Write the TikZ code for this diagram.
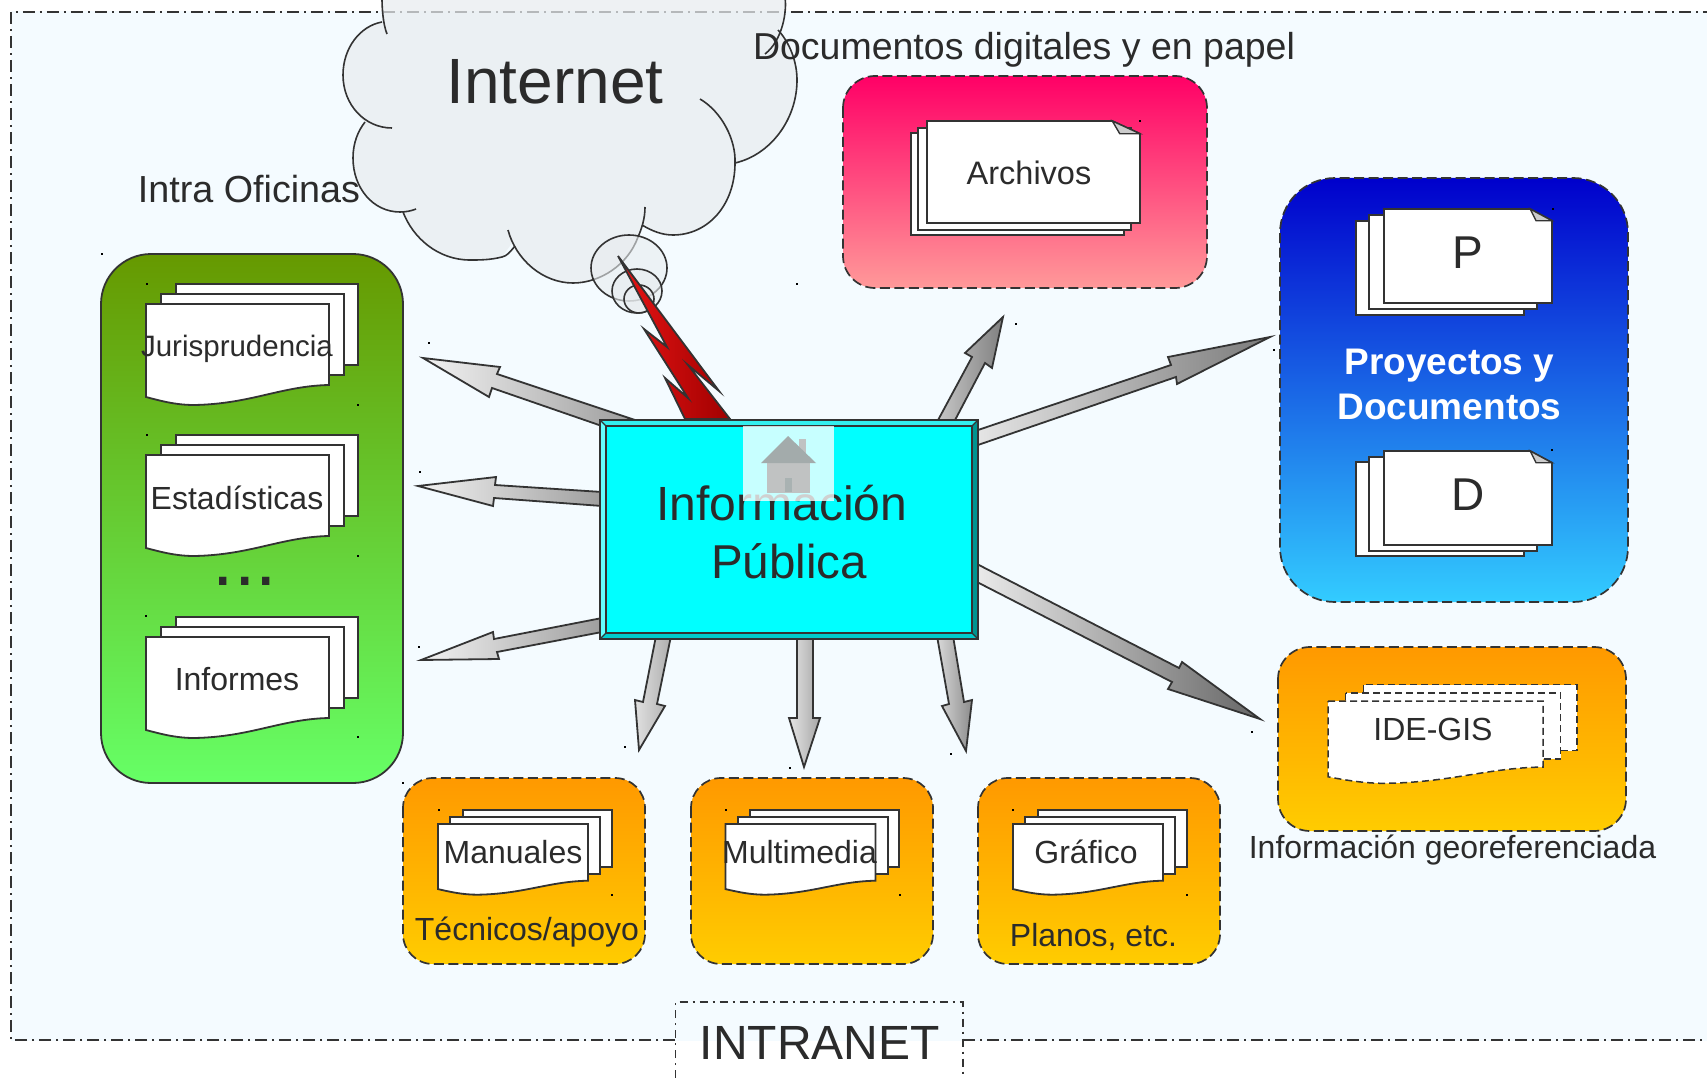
\documentclass[tikz,border=0pt]{standalone}
\usepackage{fontspec}
\setmainfont{Liberation Sans}
\definecolor{ink}{HTML}{2B2B2B}
\definecolor{linec}{HTML}{333333}
\definecolor{bgedge}{HTML}{F4FBFF}
\definecolor{bgmid}{HTML}{FDFEFF}
\definecolor{cloudfill}{HTML}{E8ECEF}
\definecolor{cyanmain}{HTML}{00FFFF}
\definecolor{beveltop}{HTML}{33EEEE}
\definecolor{bevelleft}{HTML}{66FFFF}
\definecolor{bevelright}{HTML}{009490}
\definecolor{bevelbottom}{HTML}{00CCCC}
\definecolor{boltl}{HTML}{E81515}
\definecolor{boltr}{HTML}{A00000}
\definecolor{greena}{HTML}{669900}
\definecolor{greenb}{HTML}{66FF66}
\definecolor{pinka}{HTML}{FF0066}
\definecolor{pinkb}{HTML}{FF9999}
\definecolor{bluea}{HTML}{0000CC}
\definecolor{blueb}{HTML}{33CCFF}
\definecolor{orangea}{HTML}{FF9900}
\definecolor{orangeb}{HTML}{FFCC00}
\definecolor{roof}{HTML}{A3ABAB}
\definecolor{hbody}{HTML}{C0C2C2}
\definecolor{hdoor}{HTML}{A9B2B2}
\newcommand{\fs}[1]{\fontsize{#1}{#1}\selectfont}
\tikzset{
  lbl/.style={inner sep=0pt,anchor=base,text=ink,font=\fs{#1}},
  sheet/.style={draw=linec,fill=white,line width=1.8pt,line join=miter},
  dashbox/.style={draw=linec,line width=1.7pt,dash pattern=on 10pt off 4.5pt},
  arrowshape/.style={draw=linec,line width=1.8pt,line join=miter,miter limit=12},
  cloudline/.style={draw=linec,line width=1.6pt},
  framedash/.style={draw=linec,line width=1.3pt,dash pattern=on 12pt off 5pt on 2pt off 5pt},
  boxdash/.style={draw=linec,line width=1.1pt,dash pattern=on 8pt off 5pt on 2pt off 5pt},
}
% front sheet top-left at #2,#3, scales #4,#5
\newcommand{\wavestack}[5][]{%
  \begin{scope}[shift={(#2,#3)},xscale=#4,yscale=#5]
    \path[sheet,#1] (30,-20) rectangle (212,61);
    \path[sheet,#1] (15,-10) rectangle (198,71);
    \path[sheet,#1] (0,0) -- (183,0) -- (183,81) .. controls (135,82) and (105,100) .. (48,101)
      .. controls (30,101) and (15,97) .. (0,93) -- cycle;
  \end{scope}}
% x back, x mid, x front, y front, y mid, y back, w, h
\newcommand{\foldstack}[8]{%
  \path[sheet] (#1,#6) rectangle ({#1+#7},{#6+#8});
  \path[sheet] (#2,#5) rectangle ({#2+#7},{#5+#8});
  \path[sheet] (#3,#4) -- ({#3+0.87*#7},#4) -- ({#3+#7},{#4+0.125*#8}) -- ({#3+#7},{#4+#8}) -- (#3,{#4+#8}) -- cycle;
  \path[draw=linec,fill=black!20,line width=1.4pt] ({#3+0.87*#7},#4) -- ({#3+0.905*#7},{#4+0.125*#8}) -- ({#3+#7},{#4+0.125*#8}) -- cycle;}
\begin{document}
\begin{tikzpicture}[x=1pt,y=-1pt]
\useasboundingbox (0,0) rectangle (1707,1078);
\fill[white] (0,0) rectangle (1707,1078);
% Intranet area
\shade[top color=bgedge,middle color=bgmid,bottom color=bgedge] (11,12) rectangle (1708,1040);
\draw[framedash] (675,1040) -- (11,1040) -- (11,12) -- (1708,12);
\draw[framedash] (963,1040) -- (1708,1040);
\draw[boxdash] (675.5,1078) -- (675.5,1002) -- (963,1002) -- (963,1078);
% cloud
\path[fill=cloudfill,fill opacity=.72] (382,-2) -- (785,-2) .. controls (786,10) and (784,20) .. (778,30)
  .. controls (790,43) and (797,62) .. (797,80) .. controls (797,120) and (770,155) .. (735,163)
  .. controls (735,205) and (708,235) .. (673,235) .. controls (662,235) and (652,231) .. (642,225)
  -- (638,237) .. controls (628,265) and (600,283) .. (573,283) .. controls (543,283) and (522,265) .. (512,243)
  -- (502,257) .. controls (490,260) and (480,260) .. (470,260) .. controls (438,260) and (413,238) .. (403,212)
  -- (400,212) .. controls (373,212) and (353,188) .. (353,158) .. controls (353,143) and (358,131) .. (365,122)
  .. controls (352,111) and (343,94) .. (343,75) .. controls (343,48) and (360,26) .. (382,22) -- cycle;
\draw[cloudline] (387,34) .. controls (383,24) and (382,8) .. (382,-2);
\draw[cloudline] (785,-2) .. controls (787,10) and (783,40) .. (765,54);
\draw[cloudline] (778,30) .. controls (790,43) and (797,62) .. (797,80) .. controls (797,120) and (770,155) .. (735,163);
\draw[cloudline] (700,99) .. controls (722,112) and (736,140) .. (735,163) .. controls (735,205) and (708,235) .. (673,235) .. controls (662,235) and (652,231) .. (642,225);
\draw[cloudline] (645,207) .. controls (645,218) and (642,228) .. (638,237) .. controls (628,265) and (600,283) .. (573,283) .. controls (543,283) and (516,260) .. (508,230);
\draw[cloudline] (515,246) .. controls (510,252) and (507,256) .. (502,257) .. controls (490,260) and (480,260) .. (470,260) .. controls (438,260) and (413,238) .. (403,212);
\draw[cloudline] (416,209) .. controls (411,211) and (406,212) .. (400,212) .. controls (373,212) and (353,188) .. (353,158) .. controls (353,143) and (358,131) .. (365,122);
\draw[cloudline] (392,128) .. controls (365,128) and (343,105) .. (343,75) .. controls (343,48) and (360,26) .. (382,22);
\path[cloudline,fill=cloudfill,fill opacity=.6] (629,268) ellipse [x radius=38,y radius=33];
\path[cloudline,fill=cloudfill,fill opacity=.6] (637,291) ellipse [x radius=25,y radius=22];
\path[cloudline,fill=cloudfill,fill opacity=.6] (639,299) ellipse [x radius=15,y radius=14];
% lightning
\path[arrowshape,left color=boltl,right color=boltr] (618,256) -- (719,391) -- (688,365) -- (730,419) -- (685,419) -- (665,378) -- (688,398) -- (644,329) -- (667,347) -- cycle;
% arrows
\path[arrowshape,left color=black!5,right color=black!38] (423,358) -- (500,367) -- (497,374) -- (632,419) -- (599,425) -- (492,388) -- (489,397) -- cycle;
\path[arrowshape,left color=black!5,right color=black!38] (418,486) -- (496,477) -- (495,485) -- (602,492) -- (602,506) -- (494,498) -- (493,506) -- cycle;
\path[arrowshape,left color=black!5,right color=black!38] (421,660) -- (493,632) -- (494,639) -- (602,618) -- (602,632) -- (497,652) -- (499,659) -- cycle;
\path[arrowshape,left color=black!12,right color=black!32] (656,636) -- (671,636) -- (657,704) -- (665,706) -- (639,750) -- (635,700) -- (643,702) -- cycle;
\path[arrowshape,left color=black!10,right color=black!35] (797,636) -- (813,636) -- (813,718) -- (820,718) -- (804,767) -- (789,718) -- (797,718) -- cycle;
\path[arrowshape,left color=black!15,right color=black!45] (937,636) -- (953,636) -- (964,702) -- (972,700) -- (966,751) -- (942,706) -- (949,704) -- cycle;
\path[arrowshape,left color=black!22,right color=black!50] (1003,317) -- (992,368) -- (985,363) -- (954,422) -- (937,422) -- (972,357) -- (965,353) -- cycle;
\path[arrowshape,left color=black!10,right color=black!52] (1270,337) -- (1168,357) -- (1171,365) -- (975,431) -- (975,446) -- (1176,377) -- (1177,384) -- cycle;
\path[arrowshape,left color=black!8,right color=black!60] (1260,719) -- (1182,662) -- (1179,668) -- (975,563) -- (975,581) -- (1172,682) -- (1168,689) -- cycle;
% central box
\fill[cyanmain] (600,420) rectangle (978,639);
\fill[beveltop] (600,420) -- (978,420) -- (972,426) -- (606,426) -- cycle;
\fill[bevelleft] (600,420) -- (606,426) -- (606,633) -- (600,639) -- cycle;
\fill[bevelright] (978,420) -- (972,426) -- (972,633) -- (978,639) -- cycle;
\fill[bevelbottom] (600,639) -- (606,633) -- (972,633) -- (978,639) -- cycle;
\draw[line width=1.7pt,draw=linec] (600,420) rectangle (978,639);
\draw[line width=1.7pt,draw=linec] (606,426) rectangle (972,633);
\draw[line width=1.2pt,draw=linec] (600,420) -- (606,426) (978,420) -- (972,426) (600,639) -- (606,633) (978,639) -- (972,633);
\node[lbl=48] (info) at (782,520) {Información};
\node[lbl=47.5] (publica) at (789,578) {Pública};
% home icon over the text
\fill[white,opacity=.78] (743,426) rectangle (834,501);
\fill[hbody] (799,439) rectangle (806,455);
\fill[hbody] (767,463) rectangle (810,493);
\fill[roof] (761,463) -- (788,436) -- (816,463) -- cycle;
\fill[hdoor] (785,478) rectangle (792,492);
% green panel
\path[draw=linec,line width=1.8pt,rounded corners=50pt,top color=greena,bottom color=greenb] (101,254) rectangle (403,783);
\wavestack{146}{304}{1}{1}
\wavestack{146}{455}{1}{1}
\wavestack{146}{637}{1}{1}
\node[lbl=29.5] (jur) at (237,356) {Jurisprudencia};
\node[lbl=32] (est) at (237,509) {Estadísticas};
\node[lbl=77] (dots) at (245,585) {...};
\node[lbl=32] (inf) at (237,690) {Informes};
% pink panel
\path[dashbox,rounded corners=32pt,top color=pinka,bottom color=pinkb] (843,76) rectangle (1207,288);
\foldstack{911}{918}{927}{121}{128}{133}{213}{102}
\node[lbl=32.5] (arch) at (1029,185) {Archivos};
% blue panel
\path[dashbox,rounded corners=55pt,top color=bluea,bottom color=blueb] (1280,178) rectangle (1628,602);
\foldstack{1356}{1369}{1384}{209}{215}{221}{168}{94}
\foldstack{1356}{1369}{1384}{451}{457}{462}{168}{94}
\node[lbl=46] (p) at (1468,268) {P};
\node[lbl=46] (d) at (1468,510) {D};
\node[lbl=37,text=white,font=\fs{37}\bfseries] (proy) at (1449.5,374) {Proyectos y};
\node[lbl=37,text=white,font=\fs{37}\bfseries] (docs) at (1449.5,419) {Documentos};
% GIS panel
\path[dashbox,rounded corners=32pt,top color=orangea,bottom color=orangeb] (1278,647) rectangle (1626,831);
\wavestack[line width=1.5pt,dash pattern=on 7pt off 4pt]{1328}{701}{1.175}{.815}
\node[lbl=32] (gis) at (1433,740) {IDE-GIS};
\node[lbl=32] (geo) at (1452.5,858) {Información georeferenciada};
% small panels
\foreach \xa/\xb in {403/645,691/933,978/1220}
  \path[dashbox,rounded corners=30pt,top color=orangea,bottom color=orangeb] (\xa,778) rectangle (\xb,964);
\wavestack{438}{824}{.82}{.70}
\wavestack{725.5}{824}{.82}{.70}
\wavestack{1013}{824}{.82}{.70}
\node[lbl=32] (man) at (513,863) {Manuales};
\node[lbl=32] (tec) at (527,940) {Técnicos/apoyo};
\node[lbl=32] (mul) at (799.5,863) {Multimedia};
\node[lbl=32] (gra) at (1086,863) {Gráfico};
\node[lbl=32] (pla) at (1093.5,946) {Planos, etc.};
% titles
\node[lbl=64] (net) at (555,104) {Internet};
\node[lbl=37.5] (digi) at (1024,60) {Documentos digitales y en papel};
\node[lbl=37.7] (intra) at (249,203) {Intra Oficinas};
\node[lbl=48] (lan) at (819.8,1059) {INTRANET};
% stray handle dots
\foreach \px/\py in {429/343,797/284,102/254,147/284,358/405,147/435,1140/121,1553/209,1552/450,1016/324,1274/350,1252/732,420/472,419/647,625/747,790/768,951/754,358/556,146/616,358/737,403/783,439/810,612/895,726/810,900/895,1013/810,1187/895}
  \fill[black] (\px-.8,\py-.8) rectangle (\px+.8,\py+.8);
\end{tikzpicture}
\end{document}
